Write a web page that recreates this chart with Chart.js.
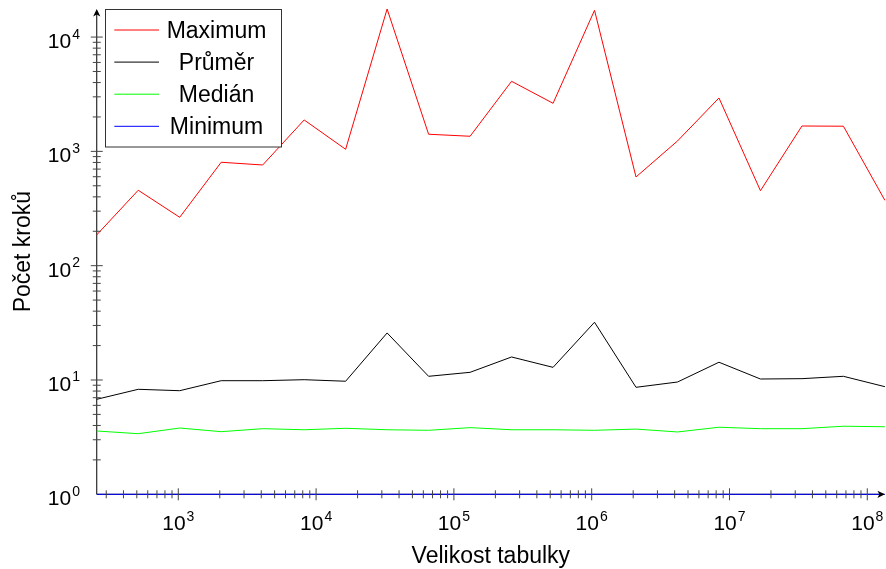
<!DOCTYPE html>
<html>
<head>
<meta charset="utf-8">
<script src="https://cdn.jsdelivr.net/npm/chart.js@4.4.1/dist/chart.umd.min.js"></script>
<style>
  body { margin: 0; background: #fff; }
  #wrap { width: 886px; height: 569px; }
</style>
</head>
<body>
<div id="wrap"><canvas id="chart" width="886" height="569"></canvas></div>
<script>
// velikost tabulky (2^8 .. 2^27)
const sizes = [256, 512, 1024, 2048, 4096, 8192, 16384, 32768, 65536, 131072,
  262144, 524288, 1048576, 2097152, 4194304, 8388608, 16777216, 33554432, 67108864, 134217728];
const maximum = [186, 457, 265, 803, 760, 1883, 1043, 17600, 1412, 1356,
  4103, 2634, 17150, 597, 1233, 2932, 453, 1667, 1660, 373];
const prumer = [6.78, 8.29, 8.06, 9.86, 9.86, 10.06, 9.75, 25.8, 10.77, 11.67,
  15.9, 12.9, 32.0, 8.63, 9.6, 14.3, 10.2, 10.27, 10.77, 8.74];
const median = [3.58, 3.39, 3.80, 3.53, 3.75, 3.67, 3.78, 3.67, 3.63, 3.83,
  3.67, 3.67, 3.63, 3.72, 3.51, 3.86, 3.75, 3.75, 3.94, 3.90];
const minimum = [1, 1, 1, 1, 1, 1, 1, 1, 1, 1, 1, 1, 1, 1, 1, 1, 1, 1, 1, 1];

const seriesNames = ['Maximum', 'Průměr', 'Medián', 'Minimum'];
const seriesColors = ['#ff0000', '#000000', '#00ff00', '#0000ff'];
const xMajorExp = [3, 4, 5, 6, 7, 8];
const yMajorExp = [0, 1, 2, 3, 4];
const xTitle = 'Velikost tabulky';
const yTitle = 'Počet kroků';

const FONT = '"Liberation Sans", Arial, sans-serif';

function pts(vals) {
  return vals.map((v, i) => ({ x: sizes[i], y: v }));
}

function powLabel(ctx, exp, x, y, align) {
  // "10" + superscript exponent; align: 'right' (x = right edge) or 'center'
  ctx.font = '21px ' + FONT;
  const wb = ctx.measureText('10').width;
  ctx.font = '14px ' + FONT;
  const we = ctx.measureText(String(exp)).width;
  let left = align === 'right' ? x - wb - we - 1 : x - (wb + we + 1) / 2;
  ctx.textAlign = 'left';
  ctx.textBaseline = 'alphabetic';
  ctx.font = '21px ' + FONT;
  ctx.fillText('10', left, y);
  ctx.font = '14px ' + FONT;
  ctx.fillText(String(exp), left + wb + 1, y - 9.5);
}

function arrow(ctx, x, y, dir) {
  ctx.save();
  ctx.translate(x, y);
  ctx.rotate(dir);
  ctx.beginPath();
  ctx.moveTo(0, 0);
  ctx.lineTo(-7.5, -3.6);
  ctx.lineTo(-5.5, 0);
  ctx.lineTo(-7.5, 3.6);
  ctx.closePath();
  ctx.fillStyle = '#000';
  ctx.fill();
  ctx.restore();
}

function minorValues(minV, maxV) {
  const out = [];
  for (let e = -1; e < 10; e++) {
    for (let m = 1; m <= 9; m++) {
      const v = m * Math.pow(10, e);
      if (v >= minV && v <= maxV) out.push({ v, major: m === 1 });
    }
  }
  return out;
}

const axesPlugin = {
  id: 'pgfAxes',
  beforeDatasetsDraw(chart) {
    const { ctx, chartArea: a } = chart;
    ctx.save();
    ctx.strokeStyle = '#000';
    ctx.lineWidth = 1;
    ctx.beginPath();
    ctx.moveTo(a.left, a.bottom);
    ctx.lineTo(a.right - 3, a.bottom);
    ctx.moveTo(a.left, a.bottom);
    ctx.lineTo(a.left, a.top + 3);
    ctx.stroke();
    ctx.restore();
  },
  afterDatasetsDraw(chart) {
    const { ctx, chartArea: a, scales } = chart;
    const xs = scales.x, ys = scales.y;
    ctx.save();
    ctx.strokeStyle = '#444';
    ctx.lineWidth = 1;
    ctx.beginPath();
    minorValues(xs.min, xs.max).forEach(t => {
      const px = xs.getPixelForValue(t.v);
      if (px <= a.left + 1) return;
      const h = t.major ? 6 : 4;
      ctx.moveTo(px, a.bottom - h);
      ctx.lineTo(px, a.bottom + h);
    });
    minorValues(ys.min, ys.max).forEach(t => {
      const py = ys.getPixelForValue(t.v);
      if (py >= a.bottom - 1) return;
      const h = t.major ? 6 : 4;
      ctx.moveTo(a.left - h, py);
      ctx.lineTo(a.left + h, py);
    });
    ctx.stroke();

    arrow(ctx, a.right, a.bottom, 0);
    arrow(ctx, a.left, a.top, -Math.PI / 2);

    ctx.fillStyle = '#000';
    xMajorExp.forEach(e => {
      powLabel(ctx, e, xs.getPixelForValue(Math.pow(10, e)), a.bottom + 36, 'center');
    });
    yMajorExp.forEach(e => {
      powLabel(ctx, e, 80, ys.getPixelForValue(Math.pow(10, e)) + 11, 'right');
    });

    // axis titles
    ctx.font = '23px ' + FONT;
    ctx.textAlign = 'center';
    ctx.textBaseline = 'alphabetic';
    ctx.fillText(xTitle, (a.left + a.right) / 2, 563);
    ctx.save();
    ctx.translate(29.5, (a.top + a.bottom) / 2);
    ctx.rotate(-Math.PI / 2);
    ctx.fillText(yTitle, 0, 0);
    ctx.restore();

    // legend
    const lx = 105.5, ly = 9.5, lw = 176, lh = 137.5;
    ctx.fillStyle = '#fff';
    ctx.fillRect(lx, ly, lw, lh);
    ctx.strokeStyle = '#333';
    ctx.lineWidth = 1;
    ctx.strokeRect(lx, ly, lw, lh);
    seriesNames.forEach((name, i) => {
      const ry = 30 + i * 32.1;
      ctx.strokeStyle = seriesColors[i];
      ctx.beginPath();
      ctx.moveTo(114.3, ry);
      ctx.lineTo(159, ry);
      ctx.stroke();
      ctx.fillStyle = '#000';
      ctx.font = '23px ' + FONT;
      ctx.textAlign = 'center';
      ctx.fillText(name, 216.5, ry + 8);
    });
    ctx.restore();
  }
};

const datasets = [maximum, prumer, median, minimum].map((vals, i) => ({
  label: seriesNames[i],
  data: pts(vals),
  borderColor: seriesColors[i],
  backgroundColor: seriesColors[i],
  borderWidth: 1,
  pointRadius: 0,
  tension: 0,
  clip: false
}));

new Chart(document.getElementById('chart'), {
  type: 'line',
  data: { datasets },
  options: {
    responsive: false,
    animation: false,
    layout: { padding: { left: 96.75, right: 1.1, top: 9, bottom: 74.7 } },
    plugins: { legend: { display: false }, tooltip: { enabled: false } },
    scales: {
      x: { type: 'logarithmic', min: 256, max: 134217728, display: false },
      y: { type: 'logarithmic', min: 1, max: 17600, display: false }
    }
  },
  plugins: [axesPlugin]
});
</script>
</body>
</html>
